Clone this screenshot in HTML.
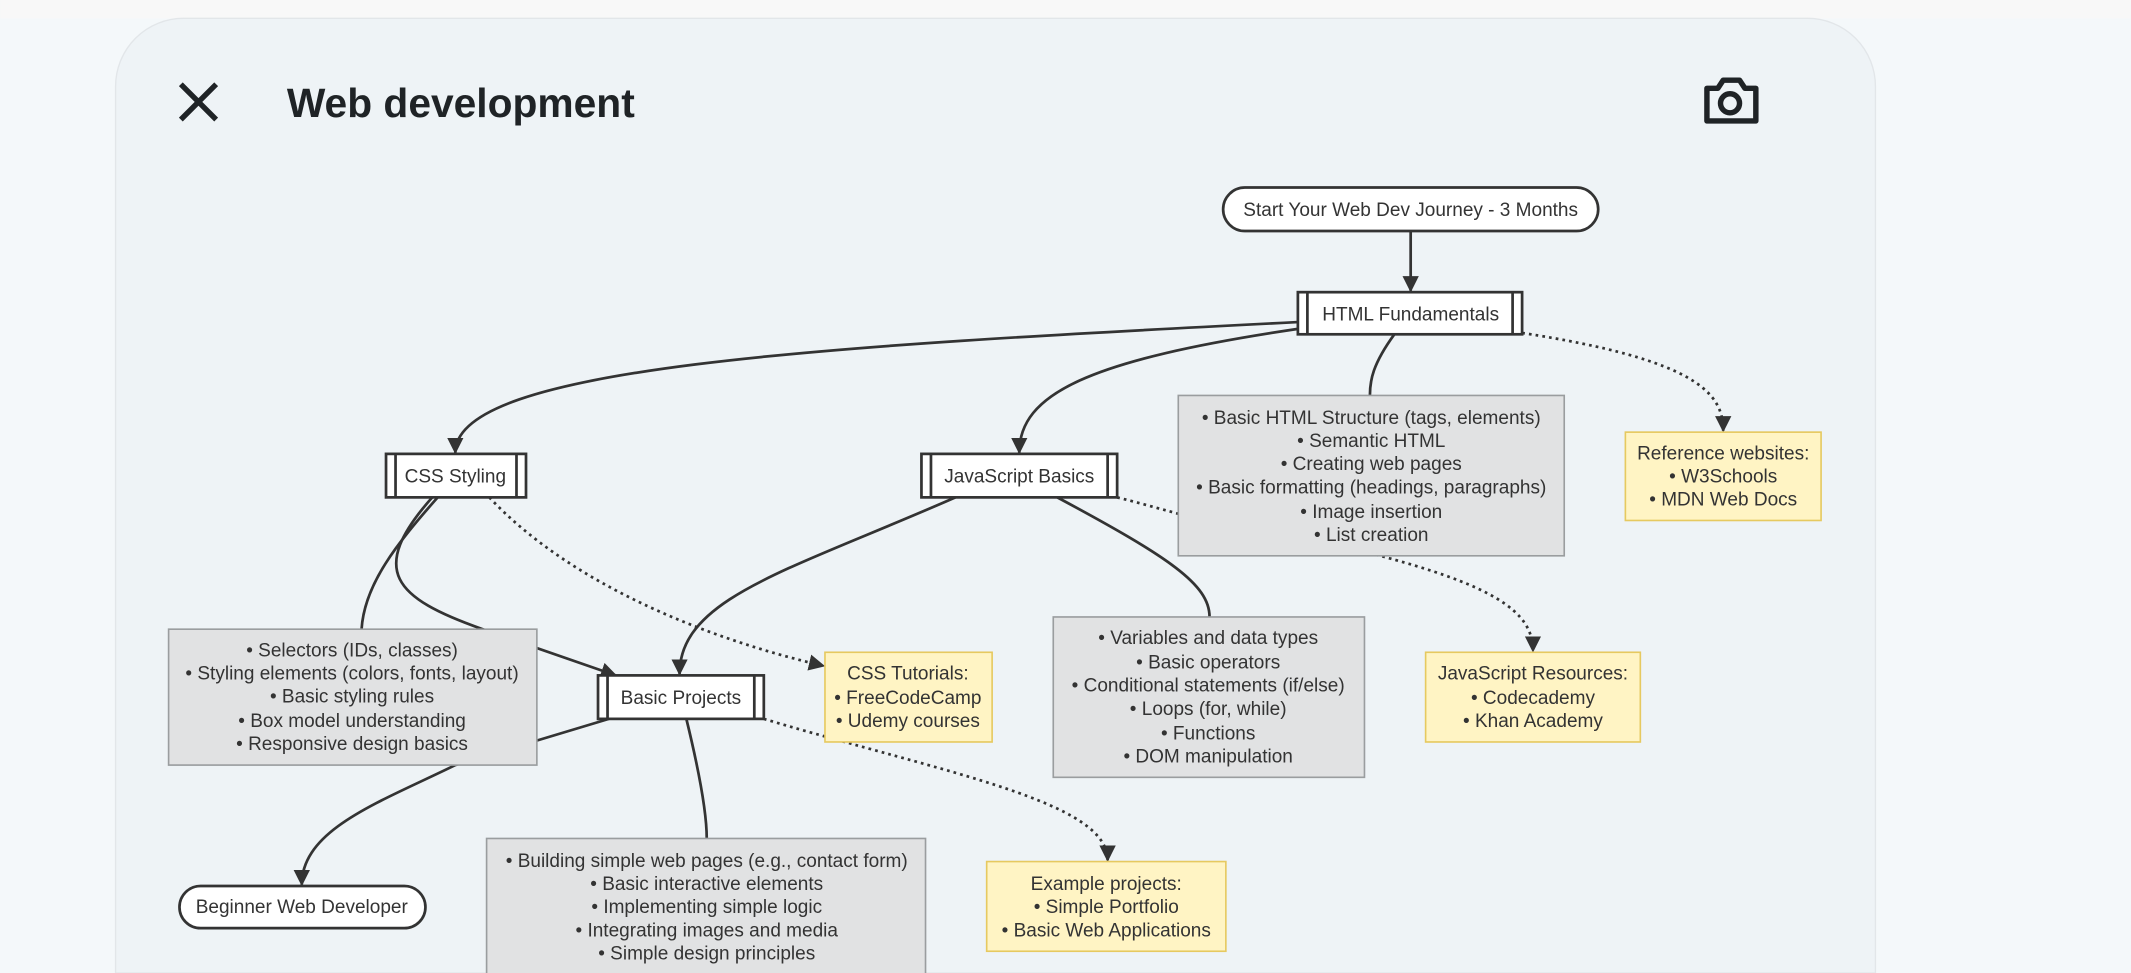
<!DOCTYPE html>
<html><head><meta charset="utf-8"><style>
html,body{margin:0;padding:0;width:2131px;height:973px;overflow:hidden;background:#f4f8fa}
svg{display:block}
text{font-family:"Liberation Sans",sans-serif;fill:#333}
</style></head><body>
<svg width="2131" height="973" viewBox="0 0 1568 716" xmlns="http://www.w3.org/2000/svg">
<defs>
<marker id="a" viewBox="0 0 10 10" refX="9" refY="5" markerWidth="6" markerHeight="6" orient="auto"><path d="M0,0L10,5L0,10z" fill="#333"/></marker>
<clipPath id="c"><rect x="0" y="0" width="1568" height="716"/></clipPath>
</defs>
<g clip-path="url(#c)">
<rect x="0" y="0" width="1568" height="13.5" fill="#f8f8f8"/>
<path d="M85,716V63.5A50,50 0 0 1 135,13.5H1330A50,50 0 0 1 1380,63.5V716z" fill="#eef3f6" stroke="#e2e6e9" stroke-width="1"/>
<path d="M133,62L159,88M159,62L133,88" stroke="#1f2326" stroke-width="4"/>
<text x="211" y="86" style="font-size:30px;fill:#1f2326;font-weight:bold">Web development</text>
<g fill="none" stroke="#1f2326" stroke-width="4" stroke-linejoin="round">
<path d="M1256,65h8l4,-6h12l4,6h8v24h-36z"/><circle cx="1273" cy="76" r="7"/>
</g>
<g fill="none" stroke="#333" stroke-width="2">
<path d="M1038,170L1038,214" marker-end="url(#a)"/>
<path d="M955,237C600,255 335,270 335,333" marker-end="url(#a)"/>
<path d="M955,242C800,265 750,290 750,333" marker-end="url(#a)"/>
<path d="M1026,246C1010,268 1008,280 1008,291"/>
<path d="M322,366C292,400 268,430 266,463"/>
<path d="M318,366C270,420 290,440 355,463L453,497" marker-end="url(#a)"/>
<path d="M703,366C580,420 500,440 500,496" marker-end="url(#a)"/>
<path d="M778,366C860,410 890,430 890,454"/>
<path d="M505,529C515,570 520,600 520,617"/>
<path d="M448,529L335,563C280,590 222,610 222,651" marker-end="url(#a)"/>
</g>
<g fill="none" stroke="#333" stroke-width="2" stroke-dasharray="2,3">
<path d="M1120,245C1250,265 1268,290 1268,317" marker-end="url(#a)"/>
<path d="M360,366C420,430 520,470 606,490" marker-end="url(#a)"/>
<path d="M822,366C870,378 900,390 1000,405C1100,430 1128,450 1128,479" marker-end="url(#a)"/>
<path d="M562,529C700,570 815,590 815,633" marker-end="url(#a)"/>
</g>
<g stroke="#333" stroke-width="2" fill="#fff">
<rect x="900" y="138" width="276" height="32" rx="16"/>
<rect x="132" y="652" width="181" height="31" rx="15.5"/>
<rect x="955" y="215" width="165" height="31"/><path d="M962,215v31M1113,215v31" fill="none"/>
<rect x="284" y="334" width="103" height="32"/><path d="M291,334v32M380,334v32" fill="none"/>
<rect x="678" y="334" width="144" height="32"/><path d="M685,334v32M815,334v32" fill="none"/>
<rect x="440" y="497" width="122" height="32"/><path d="M447,497v32M555,497v32" fill="none"/>
</g>
<g fill="#e1e2e3" stroke="#9a9d9f" stroke-width="1.2">
<rect x="867" y="291" width="284" height="118"/>
<rect x="124" y="463" width="271" height="100"/>
<rect x="775" y="454" width="229" height="118"/>
<rect x="358" y="617" width="323" height="105"/>
</g>
<g fill="#fff4c4" stroke="#e6c960" stroke-width="1.2">
<rect x="1196" y="318" width="144" height="65"/>
<rect x="607" y="480" width="123" height="66"/>
<rect x="1049" y="480" width="158" height="66"/>
<rect x="726" y="634" width="176" height="66"/>
</g>
<g text-anchor="middle" style="font-size:14px">
<text x="1038" y="159">Start Your Web Dev Journey - 3 Months</text>
<text x="1038" y="236">HTML Fundamentals</text>
<text x="335" y="355">CSS Styling</text>
<text x="750" y="355">JavaScript Basics</text>
<text x="501" y="518">Basic Projects</text>
<text x="222" y="672">Beginner Web Developer</text>
<text x="1009" y="312">• Basic HTML Structure (tags, elements)</text>
<text x="1009" y="329">• Semantic HTML</text>
<text x="1009" y="346">• Creating web pages</text>
<text x="1009" y="363">• Basic formatting (headings, paragraphs)</text>
<text x="1009" y="381">• Image insertion</text>
<text x="1009" y="398">• List creation</text>
<text x="1268" y="338">Reference websites:</text>
<text x="1268" y="355">• W3Schools</text>
<text x="1268" y="372">• MDN Web Docs</text>
<text x="259" y="483">• Selectors (IDs, classes)</text>
<text x="259" y="500">• Styling elements (colors, fonts, layout)</text>
<text x="259" y="517">• Basic styling rules</text>
<text x="259" y="535">• Box model understanding</text>
<text x="259" y="552">• Responsive design basics</text>
<text x="668" y="500">CSS Tutorials:</text>
<text x="668" y="518">• FreeCodeCamp</text>
<text x="668" y="535">• Udemy courses</text>
<text x="889" y="474">• Variables and data types</text>
<text x="889" y="492">• Basic operators</text>
<text x="889" y="509">• Conditional statements (if/else)</text>
<text x="889" y="526">• Loops (for, while)</text>
<text x="889" y="544">• Functions</text>
<text x="889" y="561">• DOM manipulation</text>
<text x="1128" y="500">JavaScript Resources:</text>
<text x="1128" y="518">• Codecademy</text>
<text x="1128" y="535">• Khan Academy</text>
<text x="520" y="638">• Building simple web pages (e.g., contact form)</text>
<text x="520" y="655">• Basic interactive elements</text>
<text x="520" y="672">• Implementing simple logic</text>
<text x="520" y="689">• Integrating images and media</text>
<text x="520" y="706">• Simple design principles</text>
<text x="814" y="655">Example projects:</text>
<text x="814" y="672">• Simple Portfolio</text>
<text x="814" y="689">• Basic Web Applications</text>
</g>
</g>
</svg>
</body></html>
